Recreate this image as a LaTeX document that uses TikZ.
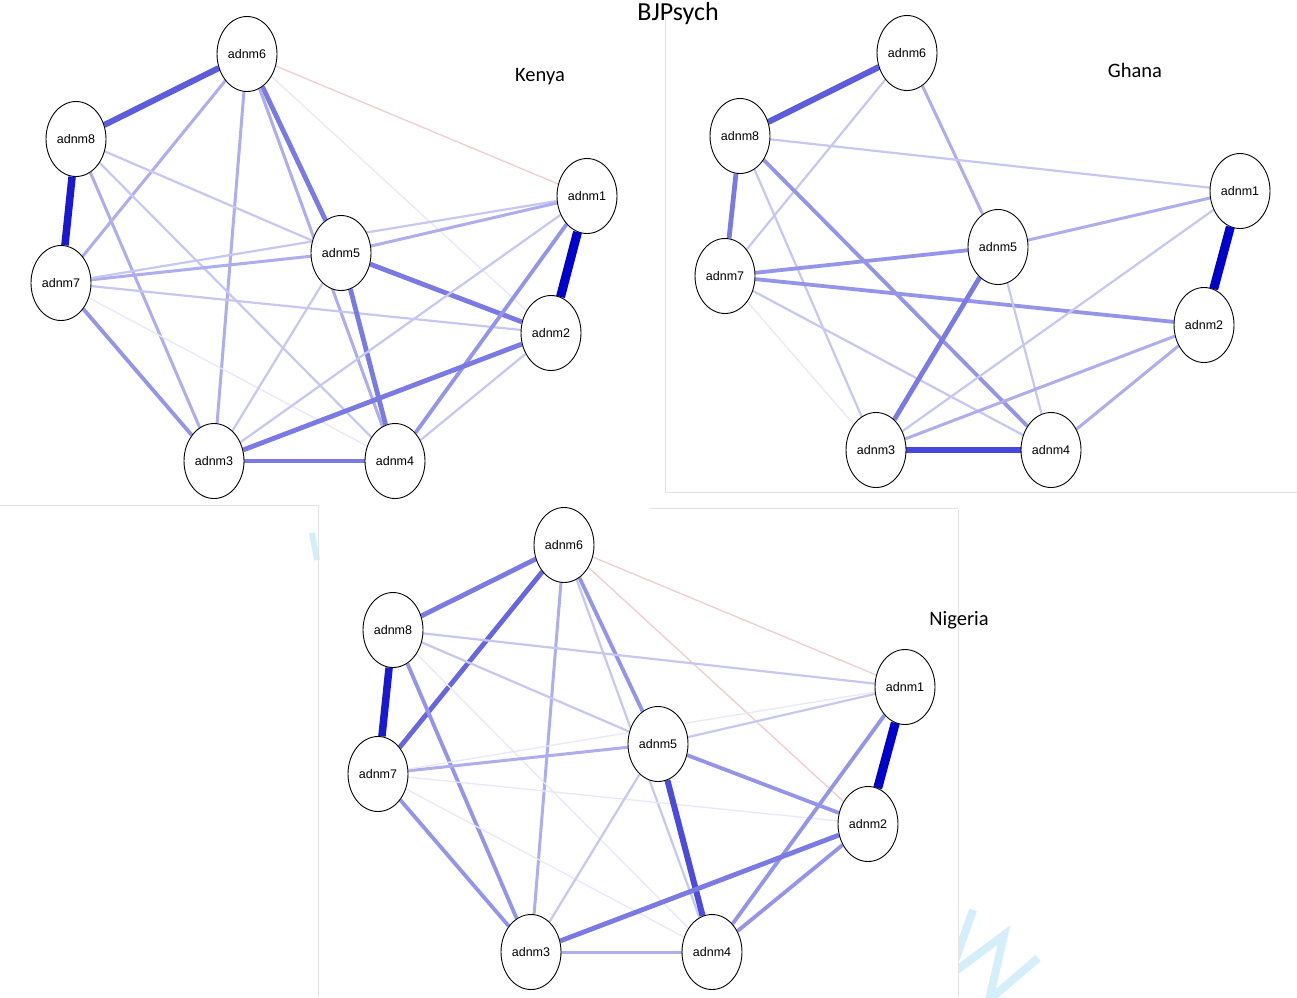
\documentclass[tikz,border=0pt]{standalone}
\usepackage{fontspec}
\setmainfont{Liberation Sans}
\newfontfamily\calib{Carlito}
\usetikzlibrary{shapes.geometric,backgrounds}
\definecolor{eb}{RGB}{0,0,205}
\definecolor{neg}{RGB}{242,205,205}
\definecolor{frame}{RGB}{226,226,226}
\definecolor{wm}{RGB}{212,238,250}
\tikzset{
 nd/.style={ellipse, draw=black, line width=0.9pt, fill=white, minimum width=60pt, minimum height=75pt, inner sep=0pt, font=\fontsize{12.5}{14}\selectfont},
 w1/.style={draw=eb!9, line width=1.3pt},
 w2/.style={draw=eb!22, line width=2.2pt},
 w3/.style={draw=eb!32, line width=3pt},
 w4/.style={draw=eb!42, line width=3.8pt},
 w5/.style={draw=eb!52, line width=4.8pt},
 w6/.style={draw=eb!64, line width=6pt},
 w8/.style={draw=eb!90, line width=7.5pt},
 w9/.style={draw=eb, line width=9pt},
 ng/.style={draw=neg, line width=1.3pt},
 fr/.style={draw=frame, line width=0.8pt},
 ttl/.style={font=\calib\fontsize{20.5}{24}\selectfont, inner sep=0pt}
}
\begin{document}
\begin{tikzpicture}[x=1pt,y=-1pt]
\useasboundingbox (0,0) rectangle (1297,997);
% titles
\node[ttl, font=\calib\fontsize{26}{30}\selectfont] (title) at (678,14) {BJPsych};
\node[ttl] (tk) at (540,77) {Kenya};
\node[ttl] (tg) at (1135,70) {Ghana};
\node[ttl] (tn) at (959,620) {Nigeria};
% Kenya
\node[nd] (k6) at (247,54) {adnm6};
\node[nd] (k8) at (76,139) {adnm8};
\node[nd] (k7) at (61,283) {adnm7};
\node[nd] (k5) at (341,253) {adnm5};
\node[nd] (k1) at (587,196) {adnm1};
\node[nd] (k2) at (551,333) {adnm2};
\node[nd] (k3) at (214,461) {adnm3};
\node[nd] (k4) at (395,461) {adnm4};
% Ghana
\node[nd] (g6) at (907,53) {adnm6};
\node[nd] (g8) at (740,136) {adnm8};
\node[nd] (g7) at (725,276) {adnm7};
\node[nd] (g5) at (998,247) {adnm5};
\node[nd] (g1) at (1240,191) {adnm1};
\node[nd] (g2) at (1204,325) {adnm2};
\node[nd] (g3) at (876,450) {adnm3};
\node[nd] (g4) at (1051,450) {adnm4};
% Nigeria
\node[nd] (n6) at (564,545) {adnm6};
\node[nd] (n8) at (393,630) {adnm8};
\node[nd] (n7) at (378,774) {adnm7};
\node[nd] (n5) at (658,744) {adnm5};
\node[nd] (n1) at (905,687) {adnm1};
\node[nd] (n2) at (868,824) {adnm2};
\node[nd] (n3) at (531,952) {adnm3};
\node[nd] (n4) at (712,952) {adnm4};
\begin{scope}[on background layer]
\fill[white] (0,0) rectangle (1297,997);
% watermark fragments
\begin{scope}
\clip (958.5,880) rectangle (1100,997);
\draw[wm, line width=8pt, line join=miter] (973,910) -- (950,975) -- (1004,935) -- (989,1000) -- (1038,958);
\end{scope}
\draw[wm, line width=6pt] (312,533) -- (317,560);
% panel frames
\draw[fr] (665,10) -- (665,492) -- (1297,492);
\draw[fr] (0,505) -- (318,505);
\draw[fr] (318,505) -- (318,997);
\draw[fr] (958,510) -- (958,997);
\draw[fr] (650,508) -- (958,508);
% Kenya edges
\draw[w6] (k6) -- (k8);
\draw[w8] (k8) -- (k7);
\draw[w9] (k1) -- (k2);
\draw[w5] (k6) -- (k5);
\draw[w3] (k6) -- (k7);
\draw[w3] (k6) -- (k3);
\draw[ng] (k6) -- (k1);
\draw[w1] (k6) -- (k2);
\draw[w3] (k6) -- (k4);
\draw[w2] (k8) -- (k5);
\draw[w3] (k8) -- (k3);
\draw[w2] (k8) -- (k4);
\draw[w3] (k7) -- (k5);
\draw[w2] (k7) -- (k1);
\draw[w2] (k7) -- (k2);
\draw[w4] (k7) -- (k3);
\draw[w1] (k7) -- (k4);
\draw[w3] (k5) -- (k1);
\draw[w5] (k5) -- (k2);
\draw[w5] (k5) -- (k4);
\draw[w2] (k5) -- (k3);
\draw[w4] (k1) -- (k4);
\draw[w2] (k1) -- (k3);
\draw[w5] (k2) -- (k3);
\draw[w2] (k2) -- (k4);
\draw[w5] (k3) -- (k4);
% Ghana edges
\draw[w6] (g6) -- (g8);
\draw[w5] (g8) -- (g7);
\draw[w9] (g1) -- (g2);
\draw[w2] (g6) -- (g7);
\draw[w3] (g6) -- (g5);
\draw[w2] (g8) -- (g1);
\draw[w4] (g8) -- (g4);
\draw[w2] (g8) -- (g3);
\draw[w4] (g7) -- (g5);
\draw[w4] (g7) -- (g2);
\draw[w1] (g7) -- (g3);
\draw[w2] (g7) -- (g4);
\draw[w3] (g5) -- (g1);
\draw[w5] (g5) -- (g3);
\draw[w2] (g5) -- (g4);
\draw[w2] (g1) -- (g3);
\draw[w3] (g2) -- (g3);
\draw[w3] (g2) -- (g4);
\draw[w6, draw=eb!72] (g3) -- (g4);
% Nigeria edges
\draw[w5] (n6) -- (n8);
\draw[w5, draw=eb!60] (n6) -- (n7);
\draw[w8] (n8) -- (n7);
\draw[w9] (n1) -- (n2);
\draw[w3] (n6) -- (n3);
\draw[w4] (n6) -- (n5);
\draw[w2] (n6) -- (n4);
\draw[ng] (n6) -- (n1);
\draw[ng] (n6) -- (n2);
\draw[w2] (n8) -- (n1);
\draw[w2] (n8) -- (n5);
\draw[w4] (n8) -- (n3);
\draw[w1] (n8) -- (n4);
\draw[w3] (n7) -- (n5);
\draw[w1] (n7) -- (n1);
\draw[w1] (n7) -- (n2);
\draw[w4] (n7) -- (n3);
\draw[w1] (n7) -- (n4);
\draw[w2] (n5) -- (n1);
\draw[w4] (n5) -- (n2);
\draw[w6, draw=eb!70] (n5) -- (n4);
\draw[w2] (n5) -- (n3);
\draw[w4] (n1) -- (n4);
\draw[w5] (n2) -- (n3);
\draw[w4] (n2) -- (n4);
\draw[w3] (n3) -- (n4);
\end{scope}
\end{tikzpicture}
\end{document}
